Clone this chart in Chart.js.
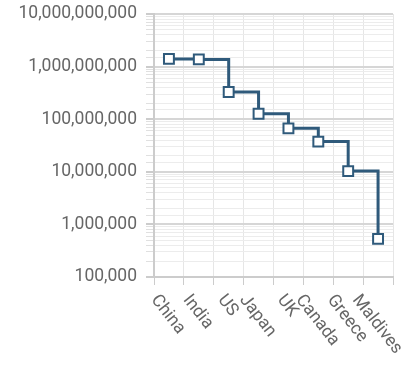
<!DOCTYPE html>
<html>
<head>
<meta charset="utf-8">
<script src="https://cdn.jsdelivr.net/npm/chart.js@4/dist/chart.umd.min.js"></script>
<style>
	html, body { margin: 0; padding: 0; background: #fff; }
	#wrap { width: 402px; height: 378px; }
</style>
</head>
<body>
<div id="wrap"><canvas id="popChart" width="402" height="378"></canvas></div>
<script>
// данные
const countries = ["China", "India", "US", "Japan", "UK", "Canada", "Greece", "Maldives"];
const population = [1400000000, 1370000000, 330000000, 127000000, 67000000, 37500000, 10300000, 530000];
const yMin = 100000;
const yMax = 10000000000;

const lineColor = "#2f5a7b";
const textColor = "#666666";
const labelAngle = 52;

Chart.defaults.font.family = "Roboto";
Chart.defaults.font.size = 17.5;
Chart.defaults.color = textColor;

// подписи по оси X рисуем сами: повёрнуты по часовой, рамка по центру категории
const rotatedLabels = {
	id: "rotatedLabels",
	afterDraw(chart) {
		const xs = chart.scales.x;
		const ctx = chart.ctx;
		const a = (labelAngle * Math.PI) / 180;
		const h = 13;
		ctx.save();
		ctx.font = "17.5px Roboto";
		ctx.fillStyle = textColor;
		ctx.textAlign = "center";
		ctx.textBaseline = "middle";
		countries.forEach((name, i) => {
			const w = ctx.measureText(name).width;
			const boxH = w * Math.sin(a) + h * Math.cos(a);
			const cx = xs.getPixelForValue(i);
			const cy = xs.top + 16 + boxH / 2;
			ctx.save();
			ctx.translate(cx - 1, cy);
			ctx.rotate(a);
			ctx.fillText(name, 0, 0);
			ctx.restore();
		});
		ctx.restore();
	},
};

const config = {
	type: "line",
	data: {
		labels: countries,
		datasets: [
			{
				data: population,
				stepped: true,
				borderColor: lineColor,
				borderWidth: 3,
				pointStyle: "rect",
				pointRadius: 7,
				pointBorderWidth: 2,
				pointBackgroundColor: "#ffffff",
				pointBorderColor: lineColor,
				fill: false,
			},
		],
	},
	options: {
		responsive: false,
		animation: false,
		layout: {
			padding: { top: 14, right: 8, bottom: 0, left: 0 },
		},
		plugins: {
			legend: { display: false },
			tooltip: { enabled: false },
		},
		scales: {
			x: {
				type: "category",
				offset: true,
				grid: {
					offset: true,
					color: "#e6e6e6",
					tickColor: "#cccccc",
					tickLength: 8,
					lineWidth: 1,
				},
				border: { color: "#cccccc", width: 2 },
				ticks: { display: false },
				afterFit(scale) {
					scale.height = 101;
					scale.paddingLeft = 0;
					scale.paddingRight = 0;
				},
			},
			y: {
				type: "logarithmic",
				min: yMin,
				max: yMax,
				grid: {
					color: (c) => (c.tick && c.tick.major ? "#d6d6d6" : "#ececec"),
					lineWidth: (c) => (c.tick && c.tick.major ? 2 : 1),
					tickColor: (c) => (c.tick && c.tick.major ? "#cccccc" : "#e0e0e0"),
					tickLength: 8,
				},
				border: { color: "#cccccc", width: 2 },
				ticks: {
					autoSkip: false,
					padding: 9,
					color: textColor,
					callback: function (value) {
						const l = Math.log10(value);
						if (Math.abs(l - Math.round(l)) < 1e-9) {
							return Number(value).toLocaleString("en-US");
						}
						return "";
					},
				},
				afterFit(scale) {
					scale.width = 154;
					scale.paddingTop = 0;
					scale.paddingBottom = 0;
				},
			},
		},
	},
	plugins: [rotatedLabels],
};

const popChart = new Chart(document.getElementById("popChart"), config);
</script>
</body>
</html>
